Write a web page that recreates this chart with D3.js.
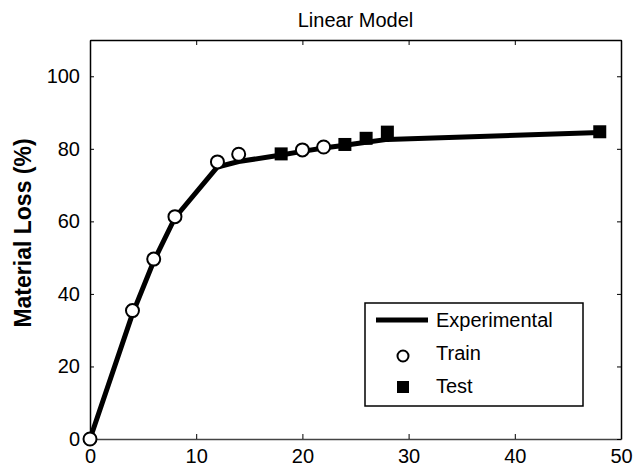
<!DOCTYPE html>
<html>
<head>
<meta charset="utf-8">
<script src="https://cdn.jsdelivr.net/npm/d3@7"></script>
<style>
    body { margin: 0; background: #fff; }
    text { font-family: "Liberation Sans", Arial, sans-serif; fill: #000; }
</style>
</head>
<body>
<div id="chart"></div>
<script>
// Experimental curve
var expX = [0, 4, 6, 8, 12, 14, 18, 20, 22, 24, 26, 28, 48];
var expY = [0, 34.5, 49, 61, 75, 76.5, 78.3, 79.3, 80.2, 81, 81.8, 82.6, 84.5];

// Train points (circles)
var trainX = [0, 4, 6, 8, 12, 14, 20, 22];
var trainY = [0, 35.4, 49.6, 61.3, 76.4, 78.5, 79.7, 80.5];

// Test points (squares)
var testX = [18, 24, 26, 28, 48];
var testY = [78.6, 81.2, 82.9, 84.6, 84.7];

var xTicks = [0, 10, 20, 30, 40, 50];
var yTicks = [0, 20, 40, 60, 80, 100];

var legendLabels = ["Experimental", "Train", "Test"];

// Set the dimensions and margins of the diagram
var width = 636, height = 467;
var margin = { top: 40, right: 15, bottom: 28, left: 90 };

var svg = d3.select("#chart").append("svg")
    .attr("width", width)
    .attr("height", height);

var x = d3.scaleLinear().domain([0, 50]).range([margin.left, width - margin.right]);
var y = d3.scaleLinear().domain([0, 110]).range([height - margin.bottom, margin.top]);

// axes with inward ticks on all four sides
svg.append("g")
    .attr("transform", "translate(0," + y(0) + ")")
    .call(d3.axisBottom(x).tickValues(xTicks).tickSizeInner(-5).tickSizeOuter(0).tickPadding(10))
    .call(function (g) {
        g.select(".domain").attr("stroke", "#444").attr("stroke-width", 1.5);
        g.selectAll("text").attr("font-size", 20).attr("font-family", "Liberation Sans, Arial, sans-serif");
    });

svg.append("g")
    .attr("transform", "translate(0," + y(110) + ")")
    .call(d3.axisTop(x).tickValues(xTicks).tickSizeInner(-5).tickSizeOuter(0).tickFormat(""))
    .call(function (g) { g.select(".domain").attr("stroke-width", 1.5); });

svg.append("g")
    .attr("transform", "translate(" + x(0) + ",0)")
    .call(d3.axisLeft(y).tickValues(yTicks).tickSizeInner(-4).tickSizeOuter(0).tickPadding(10))
    .call(function (g) {
        g.select(".domain").attr("stroke-width", 1.5);
        g.selectAll("text").attr("font-size", 20).attr("font-family", "Liberation Sans, Arial, sans-serif");
    });

svg.append("g")
    .attr("transform", "translate(" + x(50) + ",0)")
    .call(d3.axisRight(y).tickValues(yTicks).tickSizeInner(-4).tickSizeOuter(0).tickFormat(""))
    .call(function (g) { g.select(".domain").attr("stroke-width", 1.5); });

// title and axis label
svg.append("text")
    .attr("x", (x(0) + x(50)) / 2)
    .attr("y", 27)
    .attr("text-anchor", "middle")
    .attr("font-size", 20)
    .text("Linear Model");

svg.append("text")
    .attr("transform", "translate(31,233) rotate(-90)")
    .attr("text-anchor", "middle")
    .attr("font-size", 23)
    .attr("font-weight", "bold")
    .text("Material Loss (%)");

// experimental line
var line = d3.line()
    .x(function (d, i) { return x(expX[i]); })
    .y(function (d) { return y(d); });

svg.append("path")
    .datum(expY)
    .attr("fill", "none")
    .attr("stroke", "#000")
    .attr("stroke-width", 5)
    .attr("stroke-linejoin", "round")
    .attr("d", line);

// test squares
var sq = 13;
svg.selectAll("rect.test")
    .data(testY)
    .enter().append("rect")
    .attr("class", "test")
    .attr("x", function (d, i) { return x(testX[i]) - sq / 2; })
    .attr("y", function (d) { return y(d) - sq / 2; })
    .attr("width", sq)
    .attr("height", sq)
    .attr("fill", "#000");

// train circles
svg.selectAll("circle.train")
    .data(trainY)
    .enter().append("circle")
    .attr("class", "train")
    .attr("cx", function (d, i) { return x(trainX[i]); })
    .attr("cy", function (d) { return y(d); })
    .attr("r", 6.5)
    .attr("fill", "#fff")
    .attr("stroke", "#000")
    .attr("stroke-width", 2);

// legend
var lg = svg.append("g");
lg.append("rect")
    .attr("x", 365).attr("y", 303)
    .attr("width", 218).attr("height", 103)
    .attr("fill", "#fff")
    .attr("stroke", "#000")
    .attr("stroke-width", 1.5);

lg.append("line")
    .attr("x1", 376).attr("x2", 428)
    .attr("y1", 320).attr("y2", 320)
    .attr("stroke", "#000")
    .attr("stroke-width", 5);

lg.append("circle")
    .attr("cx", 403).attr("cy", 356)
    .attr("r", 5.5)
    .attr("fill", "#fff")
    .attr("stroke", "#000")
    .attr("stroke-width", 2);

lg.append("rect")
    .attr("x", 397).attr("y", 381)
    .attr("width", 12).attr("height", 12)
    .attr("fill", "#000");

lg.selectAll("text")
    .data(legendLabels)
    .enter().append("text")
    .attr("x", 436)
    .attr("y", function (d, i) { return 327 + i * 33; })
    .attr("font-size", 20)
    .text(function (d) { return d; });
</script>
</body>
</html>
